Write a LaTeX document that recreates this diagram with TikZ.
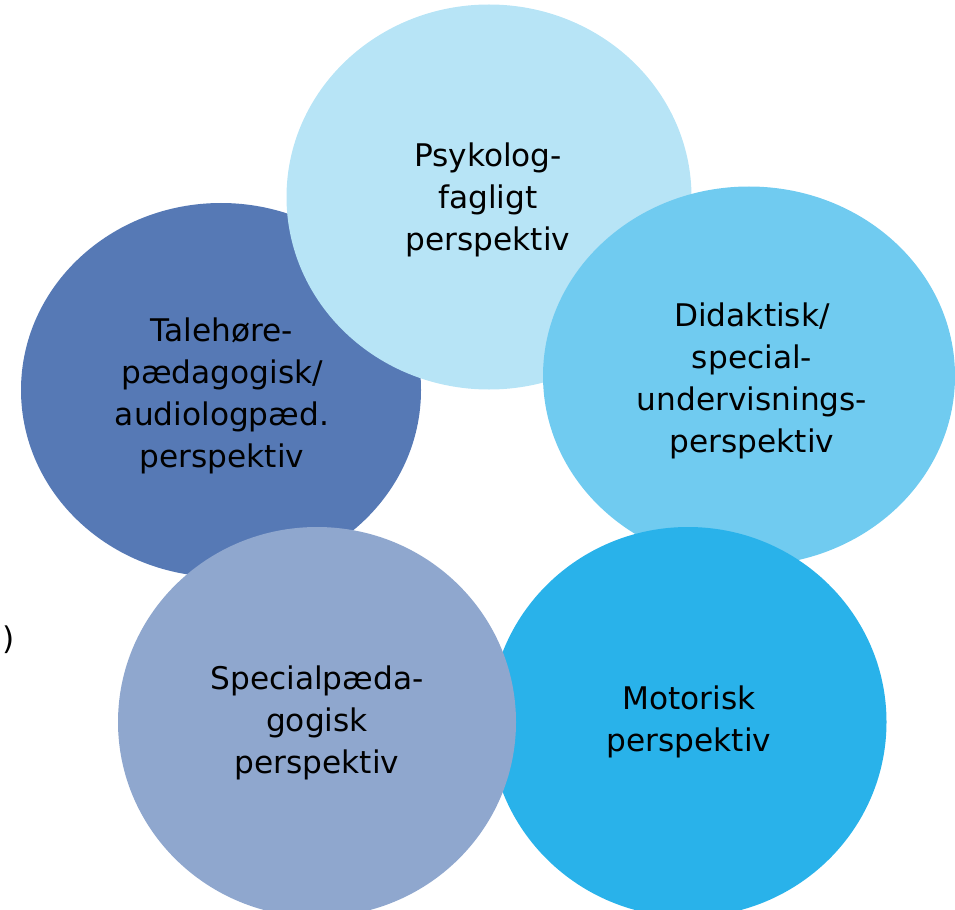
\documentclass[tikz,border=0pt]{standalone}
\usepackage{fontspec}
\setmainfont{DejaVu Sans}
\usetikzlibrary{shapes.geometric}

\definecolor{taleblaa}{HTML}{5679B5}
\definecolor{psykblaa}{HTML}{B7E4F6}
\definecolor{didablaa}{HTML}{70CBF0}
\definecolor{motoblaa}{HTML}{29B2EA}
\definecolor{specblaa}{HTML}{8FA7CE}

\begin{document}
\begin{tikzpicture}[x=0.75pt, y=-0.75pt,
		felt/.style={ellipse, inner sep=0pt, align=center, text=black,
			font=\fontsize{23.4}{31.5}\selectfont},
		]
		
		% ---- RAMME ----
		\useasboundingbox (0, 0) rectangle (955, 909);
		
		% ---- CIRKLER ----
		\node[felt, fill=taleblaa, minimum width=300pt, minimum height=280.5pt] (tale) at (221, 390) {};
		\node[felt, fill=psykblaa, minimum width=303.75pt, minimum height=288.75pt] (psyk) at (489, 197) {};
		\node[felt, fill=didablaa, minimum width=309pt, minimum height=284.25pt] (dida) at (749, 376) {};
		\node[felt, fill=motoblaa, minimum width=297.75pt, minimum height=292.5pt] (moto) at (688, 722) {};
		\node[felt, fill=specblaa, minimum width=298.5pt, minimum height=292.5pt] (spec) at (317, 722) {};
		
		% ---- TEKSTER ----
		\node[felt] (taletxt) at (222, 396) {Talehøre-\\pædagogisk/\\audiologpæd.\\perspektiv};
		\node[felt] (psyktxt) at (488, 200) {Psykolog-\\fagligt\\perspektiv};
		\node[felt] (didatxt) at (752, 381) {Didaktisk/\\special-\\undervisnings-\\perspektiv};
		\node[felt] (mototxt) at (689, 722) {Motorisk\\perspektiv};
		\node[felt] (spectxt) at (317, 723) {Specialpæda-\\gogisk\\perspektiv};
		
		% ---- PARENTES ----
		\node[felt] (paren) at (9, 640) {)};
		
	\end{tikzpicture}
\end{document}
